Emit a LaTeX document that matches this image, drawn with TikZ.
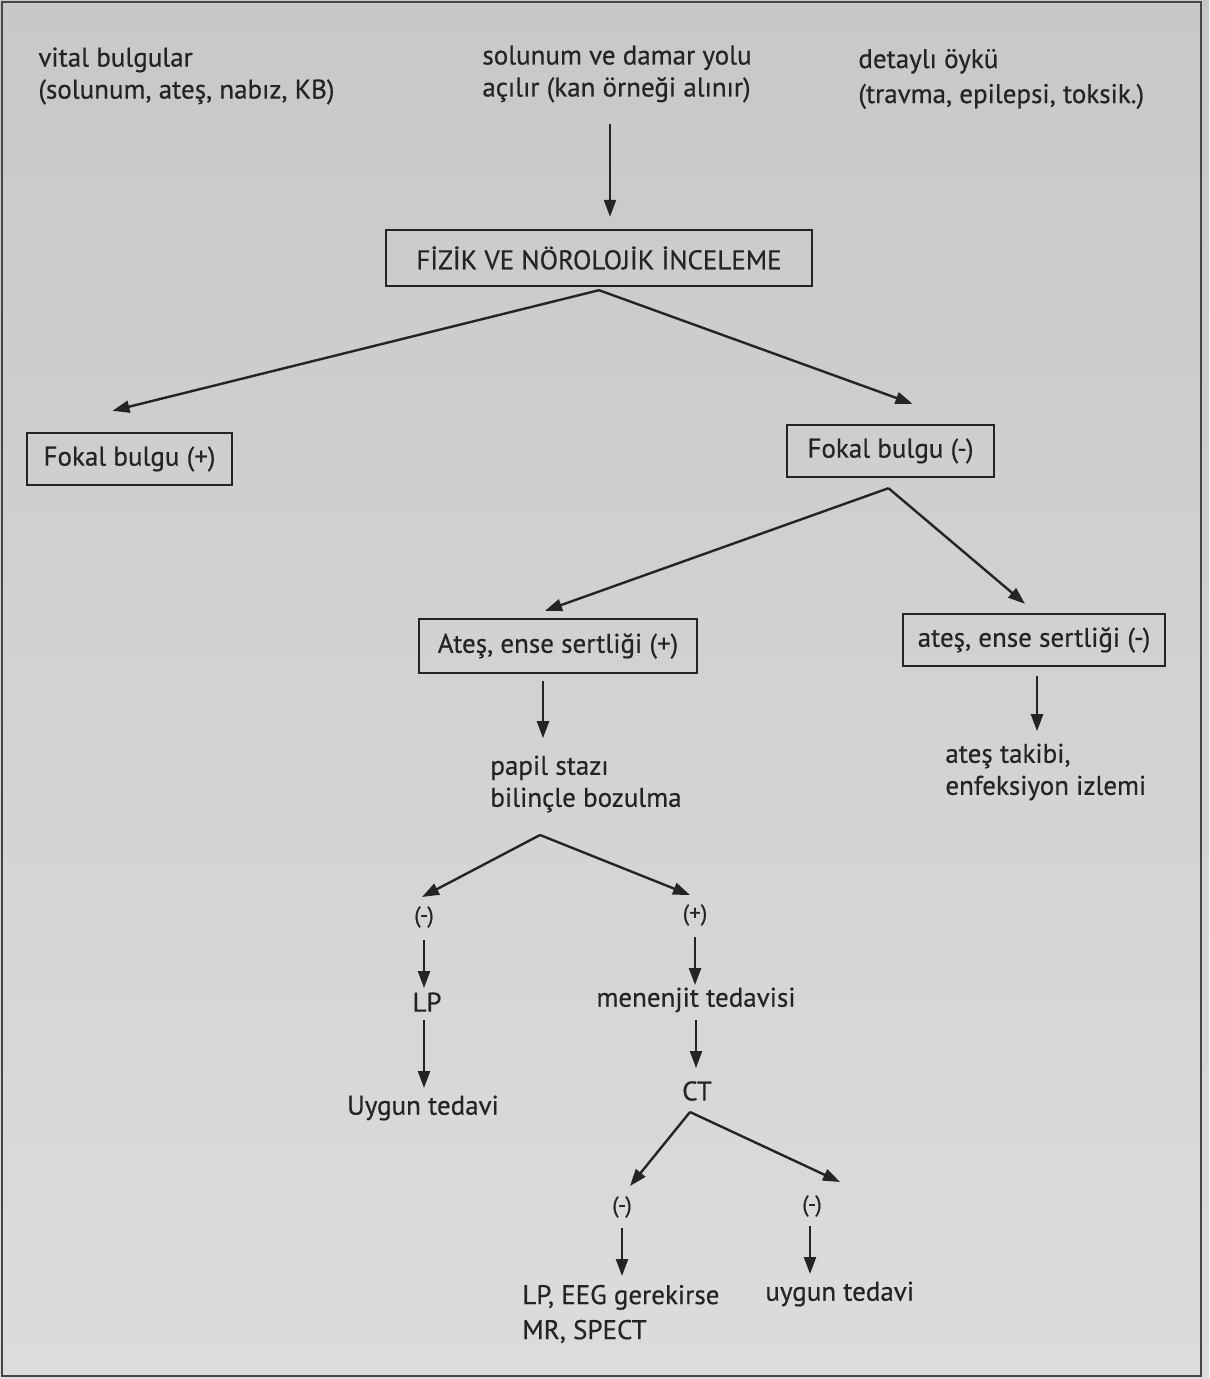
\documentclass[tikz,border=0pt]{standalone}
\usepackage{fontspec}
\setmainfont{PT Sans}[FakeBold=0.5]
\usetikzlibrary{arrows.meta,calc}
\definecolor{paperTop}{RGB}{200,200,200}
\definecolor{paperBot}{RGB}{220,220,220}
\definecolor{ink}{RGB}{36,36,36}
\definecolor{frameline}{RGB}{70,70,70}
\begin{document}
\begin{tikzpicture}[x=0.5pt,y=-0.5pt,
  txt/.style={text=ink, inner sep=0pt, font=\fontsize{13.5}{16}\selectfont},
  widetxt/.style={txt, font=\fontsize{13.5}{17.5}\selectfont},
  sign/.style={text=ink, inner sep=0pt, font=\fontsize{11.5}{13}\selectfont},
  box/.style={draw=ink, line width=1.2pt, text=ink, inner sep=0pt,
              font=\fontsize{13.5}{16}\selectfont},
  arr/.style={draw=ink, line width=1.2pt, -{Triangle[length=8.5pt,width=6pt]}},
]
% paper and page frame
\useasboundingbox (0,0) rectangle (1209,1379);
\shade[top color=paperTop, bottom color=paperBot] (0,0) rectangle (1209,1379);
\draw[frameline, line width=1pt] (2,2) rectangle (1201,1376);

% top row of notes
\node[txt, anchor=west, align=left] (vital) at (38,76)
  {vital bulgular\\(solunum, ateş, nabız, KB)};
\node[txt, anchor=west, align=left] (solunum) at (482,74)
  {solunum ve damar yolu\\açılır (kan örneği alınır)};
\node[widetxt, anchor=west, align=left] (oyku) at (858,79)
  {detaylı öykü\\(travma, epilepsi, toksik.)};

% boxes
\node[box, minimum width=213pt, minimum height=28pt] (fizik) at (599,258)
  {FİZİK VE NÖROLOJİK İNCELEME};
\node[box, minimum width=102.5pt, minimum height=26pt] (fokp) at (129.5,459)
  {Fokal bulgu (+)};
\node[box, minimum width=103.5pt, minimum height=26pt] (fokm) at (890.5,451)
  {Fokal bulgu (-)};
\node[box, minimum width=139pt, minimum height=27pt] (atesp) at (558,646)
  {Ateş, ense sertliği (+)};
\node[box, minimum width=131pt, minimum height=26pt] (atesm) at (1034,640)
  {ateş, ense sertliği (-)};

% text results
\node[txt, anchor=west, align=left] (papil) at (490,784)
  {papil stazı\\bilinçle bozulma};
\node[txt, anchor=west, align=left] (takip) at (945,772)
  {ateş takibi,\\enfeksiyon izlemi};
\node[sign] (neg1) at (424,917) {(-)};
\node[sign] (pos1) at (695,915) {(+)};
\node[txt] (lp) at (427,1002) {LP};
\node[txt] (menenjit) at (696,1000) {menenjit tedavisi};
\node[txt] (uygun1) at (423,1108) {Uygun tedavi};
\node[txt] (ct) at (697,1091) {CT};
\node[sign] (neg2) at (622,1207) {(-)};
\node[sign] (neg3) at (812,1206) {(-)};
\node[widetxt, anchor=west, align=left] (lpeeg) at (522,1314)
  {LP, EEG gerekirse\\MR, SPECT};
\node[txt, anchor=west] (uygun2) at (765,1294) {uygun tedavi};

% fork points
\coordinate (papilfork) at (540,835);

% connectors
\draw[arr] ($(fizik.north)+(11,-105)$) -- ($(fizik.north)+(11,-12)$);
\draw[arr] ($(fizik.south)+(0,3)$) -- ($(fokp.north)+(-17,-21)$);
\draw[arr] ($(fizik.south)+(0,3)$) -- ($(fokm.north)+(22,-20)$);
\draw[arr] ($(fokm.south)+(-2,10)$) -- ($(atesp.north)+(-13,-7)$);
\draw[arr] ($(fokm.south)+(-2,10)$) -- ($(atesm.north)+(-9,-9)$);
\draw[arr] ($(atesp.south)+(-15,7)$) -- ($(atesp.south)+(-15,64)$);
\draw[arr] ($(atesm.south)+(3,9)$) -- ($(atesm.south)+(3,64)$);
\draw[arr] (papilfork) -- ($(neg1)+(-2,-20)$);
\draw[arr] (papilfork) -- ($(pos1)+(-5,-20)$);
\draw[arr] ($(neg1)+(0,23)$) -- ($(lp)+(-3,-14)$);
\draw[arr] ($(pos1)+(0,22)$) -- ($(menenjit)+(-1,-15)$);
\draw[arr] ($(lp)+(-3,18)$) -- ($(uygun1)+(1,-20)$);
\draw[arr] ($(menenjit)+(0,20)$) -- ($(ct)+(-1,-23)$);
\draw[arr] ($(ct)+(-7,21)$) -- ($(neg2)+(8,-21)$);
\draw[arr] ($(ct)+(-7,21)$) -- ($(neg3)+(28,-24)$);
\draw[arr] ($(neg2)+(0,21)$) -- ($(neg2)+(0,69)$);
\draw[arr] ($(neg3)+(-2,20)$) -- ($(neg3)+(-2,68)$);
\end{tikzpicture}
\end{document}
